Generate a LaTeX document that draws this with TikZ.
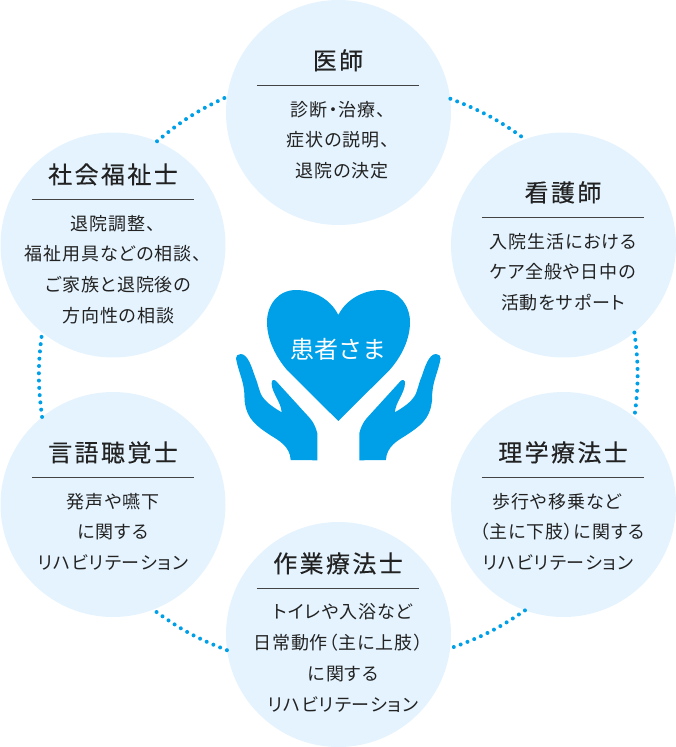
\documentclass[tikz,border=0pt]{standalone}
\usepackage{fontspec}
\setmainfont{Noto Sans CJK JP}
\usetikzlibrary{positioning}
\definecolor{roleblue}{HTML}{E4F3FE}
\definecolor{heartblue}{HTML}{00A0E9}
\definecolor{inkgray}{HTML}{222222}
\tikzset{
  rolecircle/.style={circle, fill=roleblue, minimum size=225pt, inner sep=0pt},
  roletitle/.style={minimum width=162pt, inner sep=0pt, text height=33pt, text depth=16pt, text=inkgray,
    font=\fontsize{24}{25}\selectfont\addfontfeature{LetterSpace=10,FakeBold=0.25}},
  rolebody/.style={align=center, inner sep=0pt, text=inkgray,
    font=\fontsize{18}{30.7}\selectfont\addfontfeature{RawFeature=+palt,LetterSpace=5}},
  rolerule/.style={draw=inkgray!85, line width=0.9pt},
  dotline/.style={heartblue, line width=4pt, line cap=round, dash pattern=on 0pt off 7.3pt},
}
\begin{document}
\begin{tikzpicture}[x=1pt, y=-1pt]
    \useasboundingbox (0, 0) rectangle (676, 747);
    % circles
    \node[rolecircle] (doctor) at (338.5, 112.5) {};
    \node[rolecircle] (nurse) at (563.5, 245) {};
    \node[rolecircle] (pt) at (563.5, 504.5) {};
    \node[rolecircle] (ot) at (338.5, 634.5) {};
    \node[rolecircle] (st) at (113, 504.5) {};
    \node[rolecircle] (msw) at (113, 245) {};
    % dotted arcs
    \foreach \a/\b in {doctor.7.5/nurse.110.6, nurse.-51/pt.51, pt.-110.8/ot.-7.8,
                       ot.-172.2/st.-69.2, st.129/msw.-129, msw.67/doctor.172.3}
      \draw[dotline] (\a) to[bend left=7.5] (\b);
    % titles and text
    \node[roletitle] (doctorhead) at (338, 61) {医師};
    \draw[rolerule] (doctorhead.south west) -- (doctorhead.south east);
    \node[rolebody, below=15pt of doctorhead] (doctortext) {診断・治療、\\症状の説明、\\\hspace*{8pt}退院の決定};
    \node[roletitle] (nursehead) at (563, 193) {看護師};
    \draw[rolerule] (nursehead.south west) -- (nursehead.south east);
    \node[rolebody, below=15pt of nursehead] (nursetext) {入院生活における\\ケア全般や日中の\\活動をサポート};
    \node[roletitle] (pthead) at (563, 453) {理学療法士};
    \draw[rolerule] (pthead.south west) -- (pthead.south east);
    \node[rolebody, below=15pt of pthead] (pttext) {\hspace*{-12pt}歩行や移乗など\\\hspace*{-2pt}（主に下肢）に関する\\\hspace*{-10pt}リハビリテーション};
    \node[roletitle] (othead) at (338, 564) {作業療法士};
    \draw[rolerule] (othead.south west) -- (othead.south east);
    \node[rolebody, below=15pt of othead] (ottext) {\hspace*{10pt}トイレや入浴など\\日常動作（主に上肢）\\\hspace*{10pt}に関する\\\hspace*{10pt}リハビリテーション};
    \node[roletitle] (sthead) at (113, 453) {言語聴覚士};
    \draw[rolerule] (sthead.south west) -- (sthead.south east);
    \node[rolebody, below=15pt of sthead] (sttext) {発声や嚥下\\に関する\\リハビリテーション};
    \node[roletitle] (mswhead) at (113, 175) {社会福祉士};
    \draw[rolerule] (mswhead.south west) -- (mswhead.south east);
    \node[rolebody, below=15pt of mswhead] (mswtext) {退院調整、\\福祉用具などの相談、\\\hspace*{11pt}ご家族と退院後の\\\hspace*{11pt}方向性の相談};
    % heart and hands
    \fill[heartblue] (338.3, 315) .. controls (330, 298) and (312, 290) .. (296, 290)
      .. controls (278, 290) and (267, 305) .. (267, 322)
      .. controls (267, 340) and (276, 357) .. (287, 370) -- (338.3, 421) -- (389.6, 370)
      .. controls (401, 357) and (410, 340) .. (410, 322)
      .. controls (410, 305) and (398, 290) .. (381, 290)
      .. controls (365, 290) and (347, 298) .. (338.3, 315) -- cycle;
    \node[text=white, inner sep=0pt, font=\fontsize{24}{26}\selectfont] (patient) at (338.3, 349.5) {患者さま};
    \foreach \s/\o in {1/0, -1/676.6}
      \fill[heartblue, shift={(\o, 0)}, xscale=\s] (240.7, 354) .. controls (238, 354) and (235.5, 356) .. (236, 358.3)
        .. controls (238, 370) and (243, 380) .. (244, 390)
        .. controls (245, 396) and (244, 400) .. (245, 403.3)
        .. controls (246, 411) and (249, 417) .. (253.3, 421.7)
        .. controls (258, 427) and (264, 431) .. (270, 435)
        .. controls (278, 440) and (290, 446) .. (290.7, 460)
        -- (317.3, 460.3) -- (317.3, 433.3)
        .. controls (316, 428) and (314, 423) .. (310, 418.3)
        -- (276, 381) .. controls (274, 379) and (271, 380) .. (271.7, 384)
        .. controls (272, 393) and (281, 402) .. (281.7, 412.3)
        .. controls (276, 409) and (270, 405) .. (266.7, 401.7)
        .. controls (263, 398) and (261, 395) .. (260, 391.7)
        .. controls (258, 386) and (257, 381) .. (255, 376.7)
        .. controls (252, 368) and (248, 354) .. (240.7, 354) -- cycle;
  \end{tikzpicture}
\end{document}
